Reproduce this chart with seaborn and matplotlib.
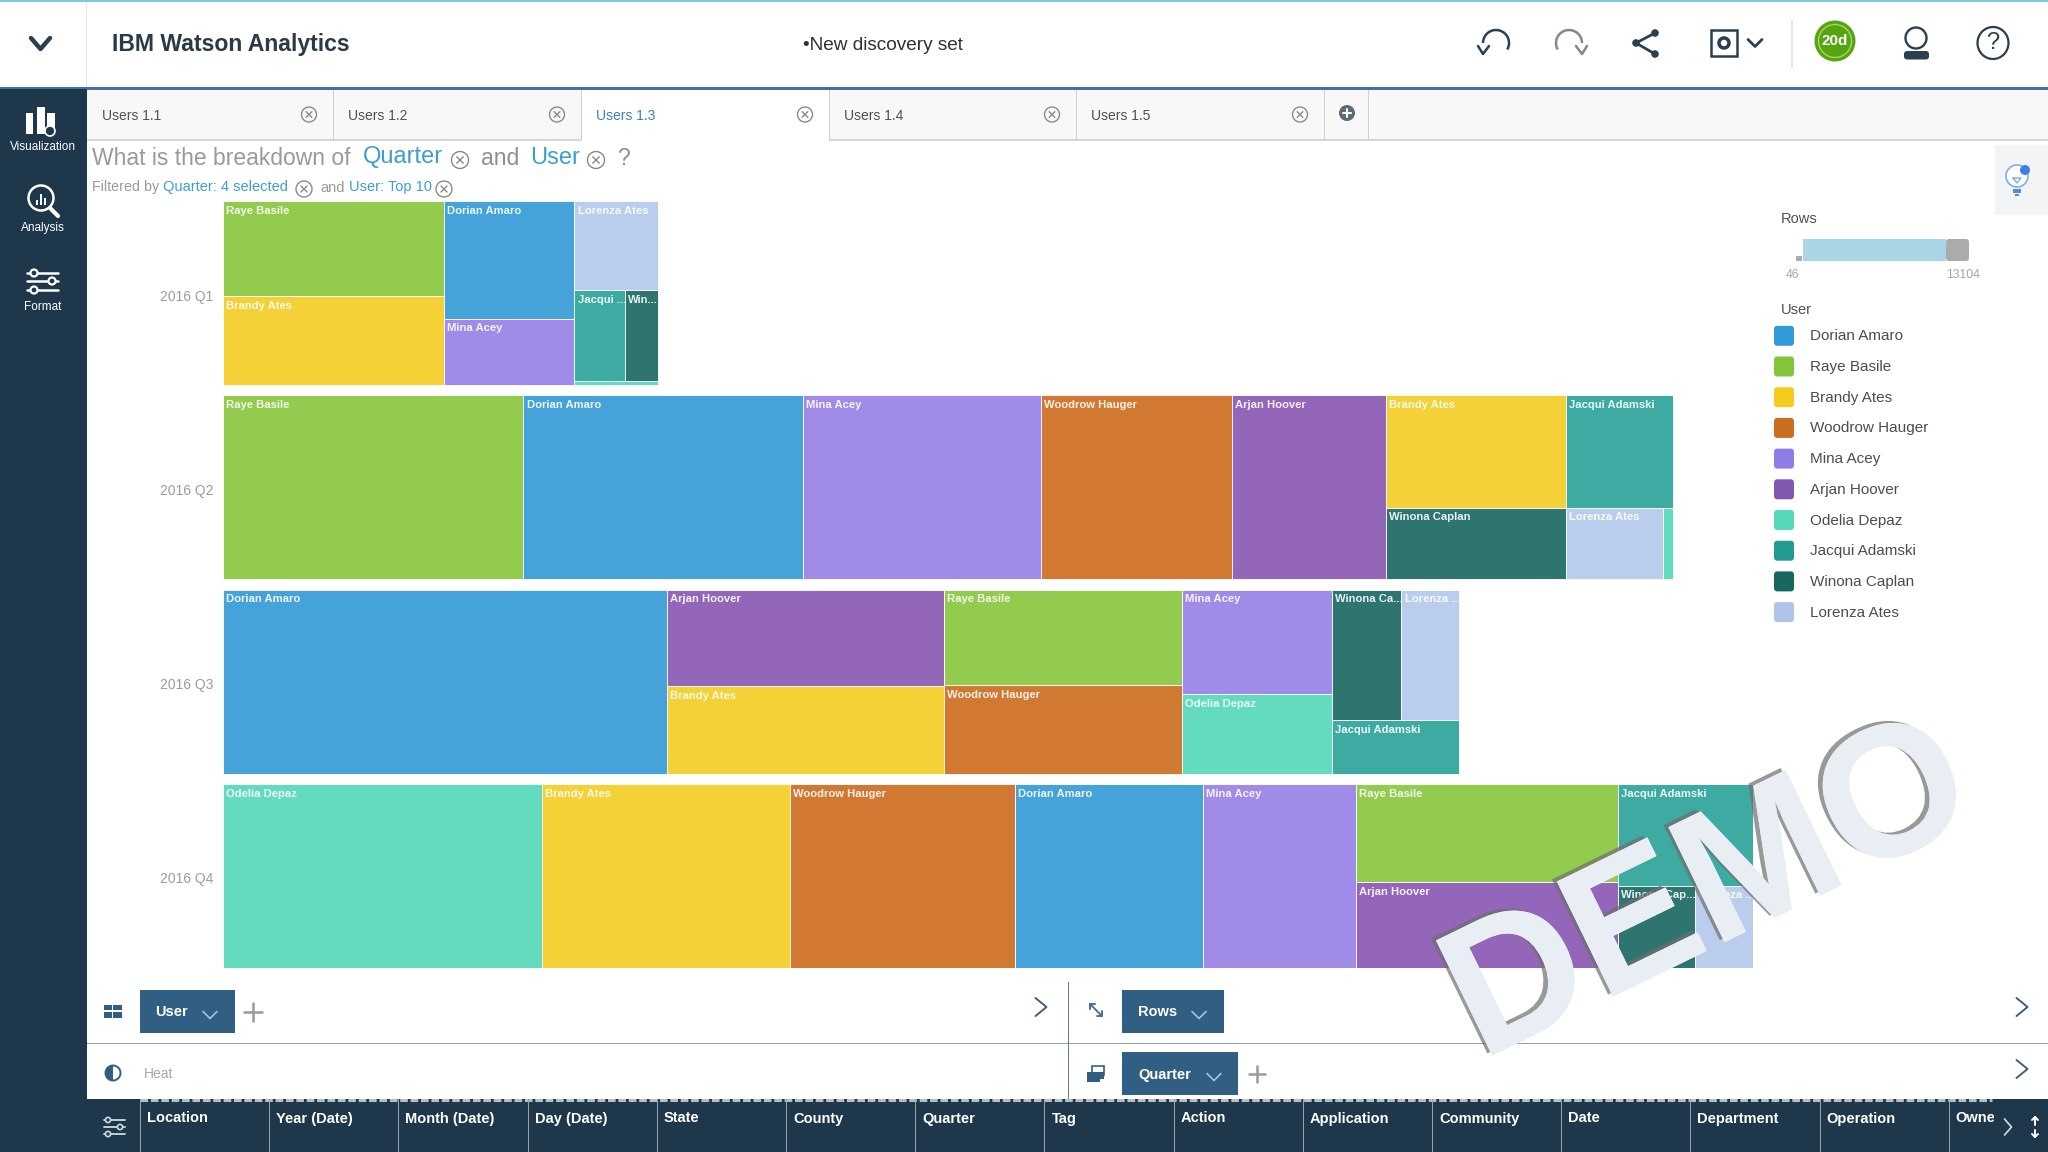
import matplotlib
matplotlib.use("Agg")
import matplotlib.pyplot as plt
import matplotlib.patheffects as pe
from matplotlib.patches import Rectangle, FancyBboxPatch, Circle, Arc, Ellipse, Wedge
from matplotlib.transforms import ScaledTranslation
import seaborn as sns

# ---------- data ----------
QUARTERS = ["2016 Q1", "2016 Q2", "2016 Q3", "2016 Q4"]
USERS = ["Dorian Amaro", "Raye Basile", "Brandy Ates", "Woodrow Hauger", "Mina Acey",
         "Arjan Hoover", "Odelia Depaz", "Jacqui Adamski", "Winona Caplan", "Lorenza Ates"]
DORIAN = [2460, 8247, 13104, 5549]
RAYE = [3372, 8863, 3631, 4120]
BRANDY = [3141, 3244, 3882, 7322]
WOODROW = [0, 5626, 3382, 6628]
MINA = [1394, 7013, 2514, 4509]
ARJAN = [0, 4547, 4287, 3626]
ODELIA = [52, 120, 1917, 9403]
JACQUI = [746, 1927, 1087, 2196]
WINONA = [478, 2074, 1448, 1016]
LORENZA = [1189, 1112, 1203, 758]
ROWS_BY_USER = [DORIAN, RAYE, BRANDY, WOODROW, MINA, ARJAN, ODELIA, JACQUI, WINONA, LORENZA]
ROWS_RANGE = ["46", "13104"]

D, R, B, W, M, A, O, J, C, L = range(10)
TREES = [
    ("h", [("v", [R, B]), ("v", [D, M]), ("v", [L, ("h", [J, C]), O])]),
    ("h", [R, D, M, W, A, ("v", [B, C]), ("v", [J, ("h", [L, O])])]),
    ("h", [D, ("v", [A, B]), ("v", [R, W]), ("v", [M, O]), ("v", [("h", [C, L]), J])]),
    ("h", [O, B, W, D, M, ("v", [R, A]), ("v", [J, ("h", [C, L])])]),
]
SHORT_LABELS = {(0, O): "", (1, O): "", (0, J): "Jacqui ...", (0, C): "Win...",
                (2, C): "Winona Ca...", (2, L): "Lorenza ...",
                (3, C): "Winona Cap...", (3, L): "Lorenza ..."}

FILL_COLORS = ["#45A3D9", "#92CB4E", "#F4D136", "#D17832", "#A08CE8",
               "#9366B9", "#62DBBF", "#3DABA1", "#2E7570", "#BBCDEC"]
KEY_COLORS = ["#2E9AD8", "#82C43A", "#F5CC1C", "#CB6D1E", "#8F7CE8",
              "#8257B0", "#55D9B8", "#229C90", "#176660", "#AFC4E8"]
TABS = ["Users 1.1", "Users 1.2", "Users 1.3", "Users 1.4", "Users 1.5"]
FIELDS = ["Location", "Year (Date)", "Month (Date)", "Day (Date)", "State", "County", "Quarter",
          "Tag", "Action", "Application", "Community", "Date", "Department", "Operation", "Owne"]

NAVY = "#1E374B"
CHIP = "#315F84"
BLUE = "#3C9FD0"
INK = "#2B3F50"

sns.set_theme(style="white")
plt.rcParams["font.family"] = ["Liberation Sans", "DejaVu Sans"]
fill_palette = sns.color_palette(FILL_COLORS)
key_palette = sns.color_palette(KEY_COLORS)

fig = plt.figure(figsize=(20.48, 11.52), dpi=100, facecolor="white")
WPX, HPX = 2048, 1152

# ---------- chrome layer in pixel coordinates ----------
ui = fig.add_axes([0, 0, 1, 1], zorder=1)
ui.set_xlim(0, WPX); ui.set_ylim(HPX, 0); ui.axis("off")


def box(x0, y0, x1, y1, color, z=1, **kw):
    ui.add_patch(Rectangle((x0, y0), x1 - x0, y1 - y0, facecolor=color, edgecolor="none", zorder=z, **kw))


def line(xs, ys, color=INK, lw=1.5, z=3, **kw):
    ui.plot(xs, ys, color=color, lw=lw, zorder=z, solid_capstyle="round", **kw)


def text(x, y, s, size=10, color="#444444", weight="normal", ha="left", va="center", z=4):
    ui.text(x, y + 1.5, s, fontsize=size, color=color, fontweight=weight, ha=ha, va=va, zorder=z)


def cross(x, y, r=8, color="#8A8A8A", lw=1.0):
    ui.add_patch(Circle((x, y), r, facecolor="none", edgecolor=color, lw=lw, zorder=3))
    d = r * 0.38
    line([x - d, x + d], [y - d, y + d], color, lw)
    line([x - d, x + d], [y + d, y - d], color, lw)


def chevron_down(x, y, w=7, h=6, color="white", lw=1.2):
    line([x - w, x, x + w], [y - h / 2, y + h / 2, y - h / 2], color, lw)


def chevron_right(x, y, w=11, h=9, color="#3F5F7F", lw=1.4, z=3):
    line([x - w / 2, x + w / 2, x - w / 2], [y - h, y, y + h], color, lw, z=z)


# frame
box(0, 0, WPX, 1.5, "#80C6DC", z=2)
box(0, 87, WPX, 89.5, "#3F72A8", z=2)
box(85.5, 2, 87, 87, "#E4E8EC", z=2)
box(0, 89, 87, HPX, NAVY, z=2)
box(87, 89, WPX, 139, "#F8F8F8")
box(87, 139, WPX, 140.5, "#D6D6D6", z=2)

# header
line([31, 40.5, 50], [38, 49, 38], INK, 3.2)
text(112, 43.5, "IBM Watson Analytics", 16.6, "#2A3A48", "bold")
text(883, 44.5, "•New discovery set", 13.7, "#303030", "normal", ha="center")

ui.add_patch(Arc((1496, 43), 26, 26, theta1=180, theta2=30, color=INK, lw=1.8, zorder=3))
line([1478, 1483, 1489], [46, 54, 46], INK, 1.8)
ui.add_patch(Arc((1569, 43), 26, 26, theta1=150, theta2=360, color="#808890", lw=1.8, zorder=3))
line([1576, 1582, 1587], [46, 54, 46], "#808890", 1.8)
line([1655, 1636, 1655], [33, 43, 54], INK, 2.0)
for sx, sy in [(1655, 33), (1636, 43), (1655, 54)]:
    ui.add_patch(Circle((sx, sy), 3.8, facecolor=INK, edgecolor="none", zorder=3))
ui.add_patch(Rectangle((1711, 30), 26, 26, facecolor="white", edgecolor=INK, lw=1.8, zorder=3))
ui.add_patch(Circle((1724, 43), 5, facecolor="white", edgecolor=INK, lw=2.5, zorder=4))
chevron_down(1755, 43, 7, 7, INK, 2)
box(1791, 20, 1792.5, 68, "#E4E6E8", z=2)
ui.add_patch(Ellipse((1835, 41), 41, 41, facecolor="#56A510", edgecolor="none", zorder=3))
ui.add_patch(Ellipse((1835, 41), 33, 33, facecolor="none", edgecolor="#A6D46E", lw=1, zorder=3))
text(1835, 39.5, "20d", 11, "white", "bold", ha="center", z=5)
ui.add_patch(Ellipse((1916, 38), 21, 21, facecolor="white", edgecolor=INK, lw=1.7, zorder=3))
ui.add_patch(FancyBboxPatch((1904, 51), 25, 8.5, boxstyle="round,pad=0,rounding_size=3", facecolor=INK, edgecolor="none", zorder=3))
ui.add_patch(Ellipse((1993, 43), 31, 32, facecolor="white", edgecolor=INK, lw=1.6, zorder=3))
text(1993, 41.5, "?", 17, INK, "normal", ha="center")

# side bar
for bx, by, bw in [(26, 113, 7), (37, 107, 8), (47, 113, 8)]:
    box(bx, by, bx + bw, 134, "white", z=3)
ui.add_patch(Circle((50, 131), 5, facecolor=NAVY, edgecolor="white", lw=1.2, zorder=4))
text(42.5, 146, "Visualization", 8.5, "white", ha="center")
ui.add_patch(Circle((41, 198), 12.5, facecolor=NAVY, edgecolor="white", lw=1.8, zorder=3))
for bx, by in [(36, 200), (40, 194), (44, 198)]:
    box(bx, by, bx + 2, 205, "white", z=4)
line([50, 58], [208, 216], "white", 3)
text(42.5, 226, "Analysis", 8.5, "white", ha="center")
for sy, sx in [(273, 34), (281, 52), (290, 34)]:
    line([27, 58], [sy, sy], "white", 1.8)
    ui.add_patch(Circle((sx, sy), 3.5, facecolor=NAVY, edgecolor="white", lw=1.6, zorder=4))
text(42.5, 306, "Format", 8.5, "white", ha="center")

# tabs
tab_edges = [87, 333, 581, 829, 1076, 1324]
for i, name in enumerate(TABS):
    x0, x1 = tab_edges[i], tab_edges[i + 1]
    if i == 2:
        box(x0, 89.5, x1, 141, "white", z=3)
    text(x0 + 15, 114, name, 10, "#3D7FB5" if i == 2 else "#505050")
    cross(x1 - 24, 114.5, 7.5, "#8A8A8A", 1)
    box(x1, 89.5, x1 + 1.2, 140, "#D0D0D0", z=4)
box(1368, 89.5, 1369, 140, "#D0D0D0", z=4)
ui.add_patch(Circle((1347, 113), 8, facecolor="#5D6B78", edgecolor="none", zorder=3))
line([1343, 1351], [113, 113], "white", 1.5, z=4)
line([1347, 1347], [109, 117], "white", 1.5, z=4)

# question
text(92, 157, "What is the breakdown of", 16.5, "#9A9A9A")
text(363, 156, "Quarter", 17, BLUE)
cross(460, 160, 8.5)
text(481, 157, "and", 16.5, "#8E8E8E")
text(530, 156, "User", 17, BLUE)
cross(596, 160, 8.5)
text(617, 157, "?", 16.5, "#8E8E8E")
text(92, 186, "Filtered by", 10.3, "#9A9A9A")
text(163, 185.5, "Quarter: 4 selected", 10.5, BLUE)
cross(304, 189, 8)
text(320, 186, "and", 10.5, "#9A9A9A")
text(349, 185.5, "User: Top 10", 10.5, BLUE)
cross(444, 189, 8)

# hint panel
box(1995, 145, WPX, 215, "#F3F4F6")
ui.add_patch(Circle((2017, 176), 11, facecolor="white", edgecolor="#7FB0E6", lw=1.2, zorder=3))
ui.add_patch(Circle((2025, 170), 5, facecolor="#3B82E0", edgecolor="none", zorder=4))
box(2013, 189, 2021, 193, "#4A90E2", z=3)
box(2015, 194, 2019, 196, "#4A90E2", z=3)
line([2013, 2021, 2017, 2013], [178, 178, 183, 178], "#7FB0E6", 1)

# legend
text(1781, 217.5, "Rows", 10.5, "#505050")
box(1803, 239, 1946, 261, "#A9D5E7", z=2)
ui.add_patch(FancyBboxPatch((1946, 239), 23, 22, boxstyle="round,pad=0,rounding_size=3", facecolor="#ABABAE", edgecolor="none", zorder=3))
box(1796, 256, 1802, 261, "#ABABAE", z=2)
text(1786, 273.5, ROWS_RANGE[0], 8.8, "#A5A5A5")
text(1946, 273.5, ROWS_RANGE[1], 8.8, "#A5A5A5")
text(1781, 308, "User", 10.5, "#505050")
for i, name in enumerate(USERS):
    yc = 335.8 + i * 30.7
    ui.add_patch(FancyBboxPatch((1774, yc - 10), 20, 20, boxstyle="round,pad=0,rounding_size=3.5",
                                facecolor=key_palette[i], edgecolor="none", zorder=3))
    text(1810, yc - 1, name, 11, "#4C4C52")

# shelves
box(87, 1042.5, WPX, 1044, "#8CA0B6", z=2)
box(1067.5, 982, 1069, 1100, "#5F7E9C", z=2)
box(140, 990, 235, 1033, CHIP, z=2)
text(155, 1010.5, "User", 10.5, "white", "bold")
chevron_down(210, 1015, 7, 7, "#A8C4DA", 1.2)
line([253, 253], [1003, 1021], "#9A9A9A", 1.8)
line([244, 262], [1012, 1012], "#9A9A9A", 1.8)
for gx, gy, gw, gh in [(104, 1005, 8, 5), (113, 1005, 9, 5), (104, 1011.5, 8, 6), (113, 1011.5, 9, 6)]:
    box(gx, gy, gx + gw, gy + gh, CHIP, z=3)
chevron_right(1041, 1007)
chevron_right(2022, 1007)
chevron_right(2022, 1069)
ui.add_patch(Circle((113, 1073), 7.5, facecolor="white", edgecolor=CHIP, lw=1.4, zorder=3))
ui.add_patch(Wedge((113, 1073), 7.5, 90, 270, facecolor=CHIP, edgecolor="none", zorder=4))
text(144, 1073, "Heat", 10, "#A8A8A8")
line([1090, 1102], [1004, 1016], "#506E8C", 1.4)
line([1090, 1090, 1095], [1009, 1004, 1004], "#506E8C", 1.4)
line([1102, 1102, 1097], [1011, 1016, 1016], "#506E8C", 1.4)
box(1122, 990, 1224, 1033, CHIP, z=2)
text(1138, 1011, "Rows", 10.5, "white", "bold")
chevron_down(1199, 1015, 7, 7, "#A8C4DA", 1.2)
box(1122, 1052, 1238, 1095, CHIP, z=2)
text(1138, 1073, "Quarter", 10.5, "white", "bold")
chevron_down(1214, 1077, 7, 7, "#A8C4DA", 1.2)
line([1257, 1257], [1066, 1082], "#9A9A9A", 1.8)
line([1249, 1265], [1074, 1074], "#9A9A9A", 1.8)
box(1087, 1072, 1104, 1079, CHIP, z=3)
box(1087, 1073, 1100, 1082, CHIP, z=3)
ui.add_patch(Rectangle((1092, 1066), 12, 9, facecolor="none", edgecolor=CHIP, lw=1.2, zorder=3))

# field bar
box(87, 1099, WPX, HPX, NAVY, z=2)
ui.plot([140, 1992], [1099.5, 1099.5], color="#B8BEC4", lw=2.2, ls=(0, (2.5, 0.9)), zorder=3)
for i, name in enumerate(FIELDS):
    x0 = 140 + i * 129.2
    box(x0, 1099, x0 + 1, HPX, "#93A2AE", z=3)
    text(x0 + 7, 1117, name, 10.5, "white", "bold")
box(1994, 1101, WPX, HPX, NAVY, z=4)
chevron_right(2008, 1127, 7, 8, "#C8D2DA", 1.3, z=5)
line([2035, 2035], [1117, 1125], "white", 1.4, z=5)
line([2035, 2035], [1130, 1137], "white", 1.4, z=5)
line([2032, 2035, 2038], [1120, 1117, 1120], "white", 1.4, z=5)
line([2032, 2035, 2038], [1134, 1137, 1134], "white", 1.4, z=5)
for sy, sx in [(1120, 108), (1127, 120), (1134, 108)]:
    line([104, 125], [sy, sy], "#D0D8DE", 1.3, z=5)
    ui.add_patch(Circle((sx, sy), 2.6, facecolor=NAVY, edgecolor="#D0D8DE", lw=1.2, zorder=6))

# ---------- treemap ----------
ax = fig.add_axes([223 / WPX, 1 - 968 / HPX, (1753 - 223) / WPX, (968 - 201) / HPX], zorder=2)
ax.patch.set_alpha(0)
for s in ax.spines.values():
    s.set_visible(False)
totals = [sum(col[q] for col in ROWS_BY_USER) for q in range(4)]
ROW_H = 0.948
ax.set_xlim(0, max(totals))
ax.set_ylim(3 + ROW_H / 2, -ROW_H / 2)
ax.set_xticks([])
ax.set_yticks(range(4), QUARTERS)
ax.tick_params(axis="y", length=0, pad=7, labelsize=10, labelcolor="#9C9C9C")
for lbl in ax.get_yticklabels():
    lbl.set_transform(lbl.get_transform() + ScaledTranslation(0, -2 / 100, fig.dpi_scale_trans))


def size(node, q):
    if isinstance(node, int):
        return ROWS_BY_USER[node][q]
    return sum(size(n, q) for n in node[1])


def draw(node, q, x, y, w, h):
    """x, w in rows-per-full-height, y, h as a share of one row band."""
    if isinstance(node, int):
        ax.bar(x, h, width=w, bottom=y, align="edge", color=fill_palette[node],
               edgecolor="#FFFFFF", linewidth=0.6)
        label = SHORT_LABELS.get((q, node), USERS[node])
        if label:
            ax.annotate(label, (x, y), xytext=(2.2, -3.4), textcoords="offset points", ha="left", va="top",
                        fontsize=8.1, fontweight="bold", color="white", alpha=0.9, annotation_clip=False)
        return
    direction, kids = node
    tot = size(node, q)
    for kid in kids:
        share = size(kid, q) / tot
        if direction == "h":
            draw(kid, q, x, y, w * share, h)
            x += w * share
        else:
            draw(kid, q, x, y, w, h * share)
            y += h * share


for q, tree in enumerate(TREES):
    draw(tree, q, 0, q - ROW_H / 2, totals[q], ROW_H)

# ---------- watermark ----------
demo = fig.text(1481 / WPX, 1 - 1061 / HPX, "DEMO", fontsize=134, fontweight="bold", color="#E9EEF5",
                rotation=26, rotation_mode="anchor", ha="left", va="baseline", zorder=6)
demo.set_path_effects([pe.withSimplePatchShadow(offset=(-3.5, 1.5), shadow_rgbFace="#6E6E6E", alpha=0.7), pe.Normal()])

fig.savefig("out.png", dpi=100)
